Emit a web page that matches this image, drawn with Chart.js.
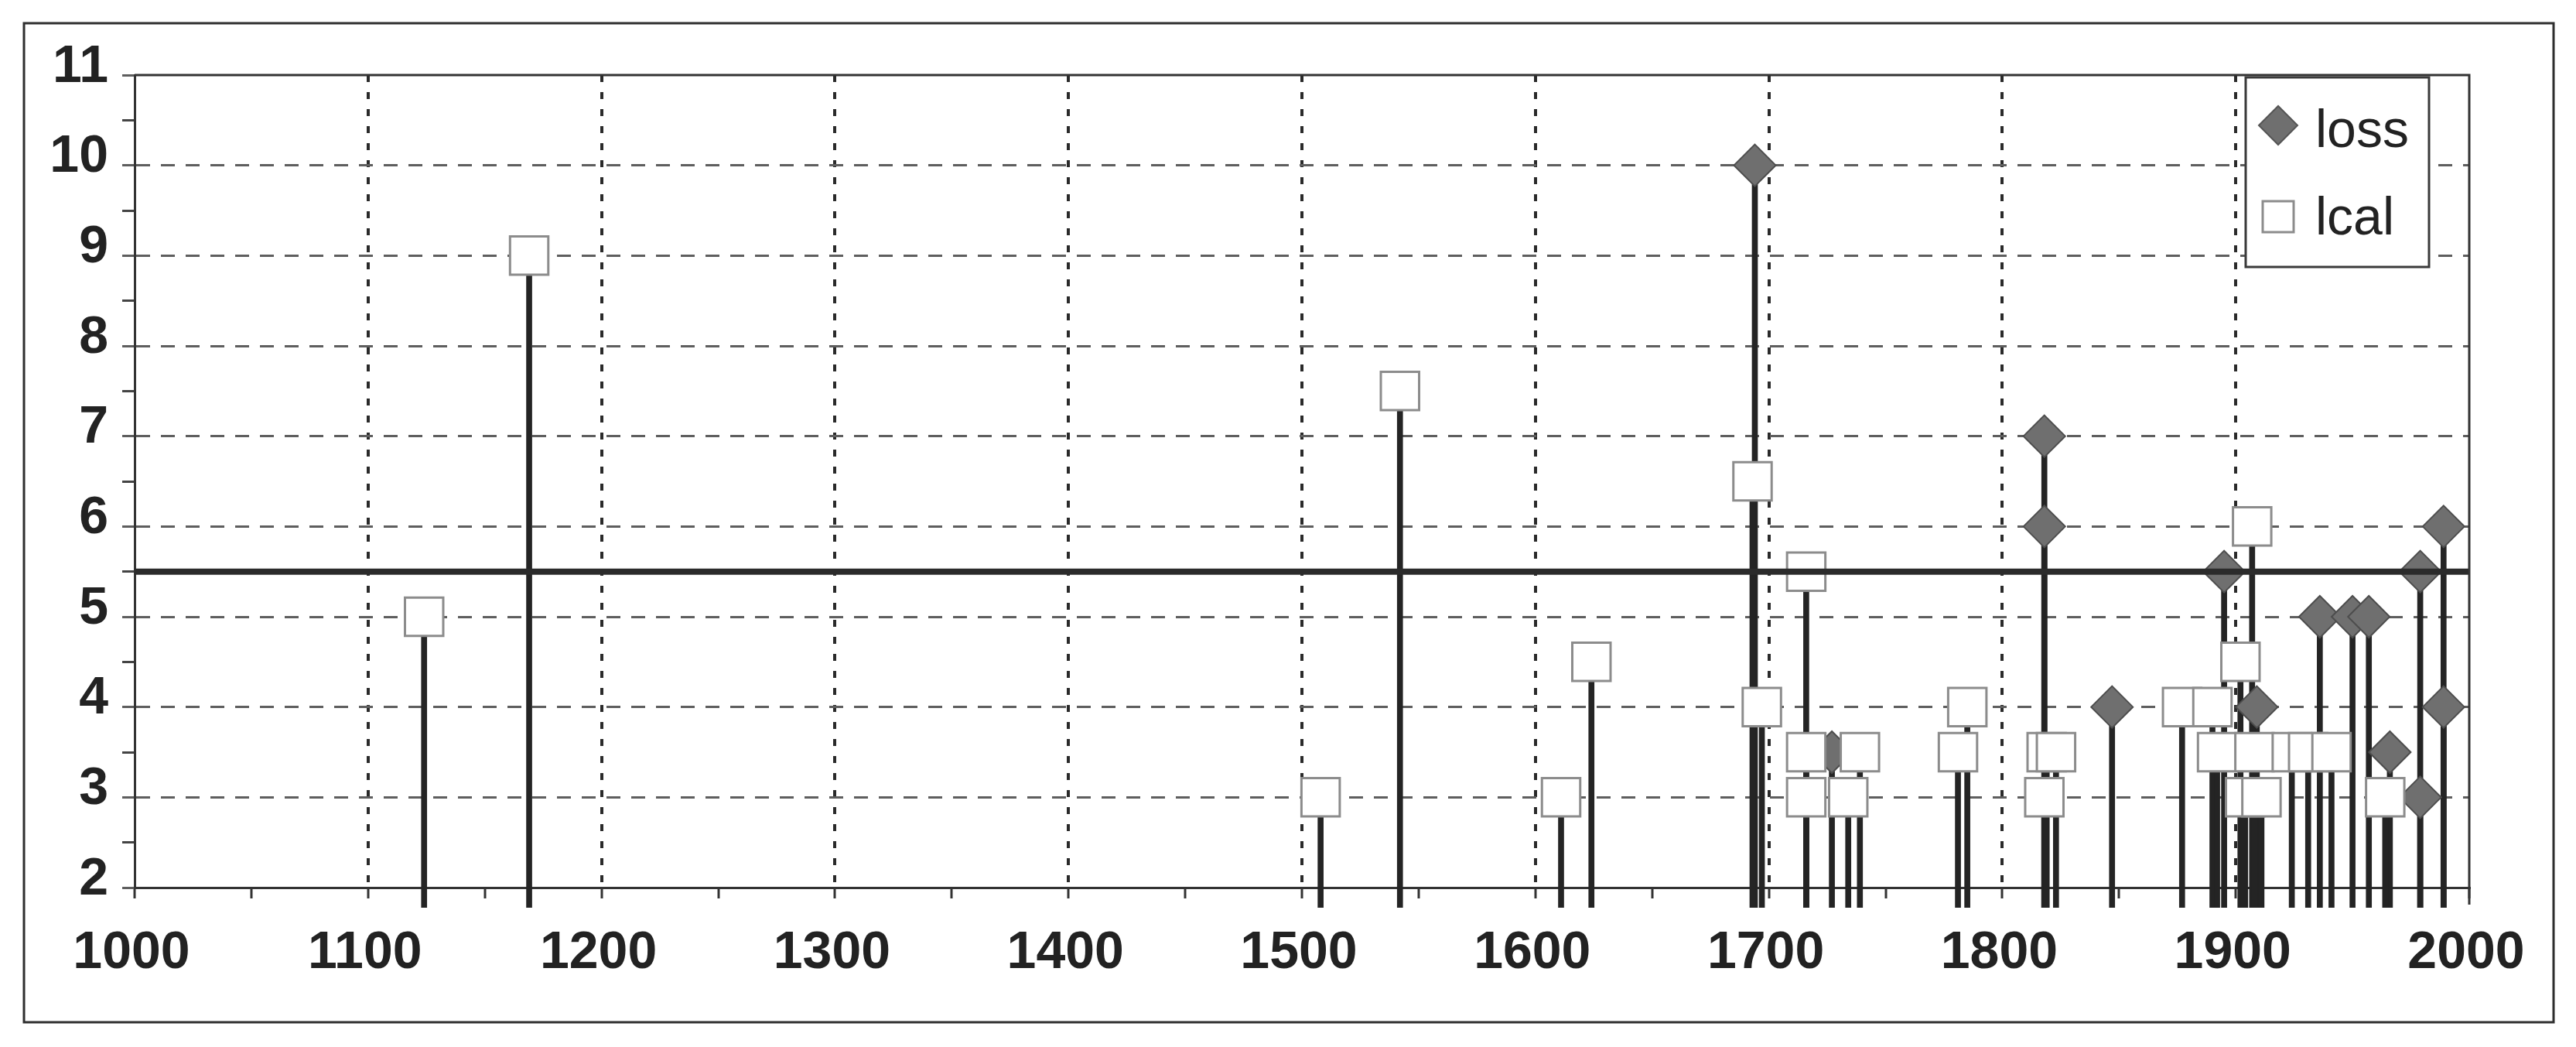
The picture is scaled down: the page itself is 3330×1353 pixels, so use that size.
<!DOCTYPE html>
<html>
<head>
<meta charset="utf-8">
<script src="https://cdn.jsdelivr.net/npm/chart.js@4"></script>
<style>
  html, body { margin: 0; padding: 0; background: #fff; }
  canvas { display: block; }
</style>
</head>
<body>
<canvas id="chart" width="3330" height="1353"></canvas>
<script>
// data
const lossYears  = [1694, 1727, 1818, 1818, 1847, 1895, 1909, 1936, 1950, 1957, 1966, 1979, 1979, 1989, 1989];
const lossValues = [10, 3.5, 7, 6, 4, 5.5, 4, 5, 5, 5, 3.5, 5.5, 3, 6, 4];

const lcalYears  = [1124, 1169, 1508, 1542, 1611, 1624, 1693, 1697, 1716, 1716, 1716, 1734, 1739, 1781, 1785,
                    1818, 1819, 1823, 1877, 1890, 1892, 1902, 1904, 1907, 1908, 1911, 1924, 1931, 1941, 1964];
const lcalValues = [5, 9, 3, 7.5, 3, 4.5, 6.5, 4, 5.5, 3.5, 3, 3, 3.5, 3.5, 4,
                    3, 3.5, 3.5, 4, 4, 3.5, 4.5, 3, 6, 3.5, 3, 3.5, 3.5, 3.5, 3];

const threshold = 5.5;
const xMin = 1000, xMax = 2000, xStep = 50;
const yMin = 2, yMax = 11, yStep = 0.5;
const stemBase = 1.78;   // stems run a little past the axis

const seriesNames = ["loss", "lcal"];

const lossPoints = lossYears.map((x, i) => ({ x: x, y: lossValues[i] }));
const lcalPoints = lcalYears.map((x, i) => ({ x: x, y: lcalValues[i] }));
const stems = lossPoints.concat(lcalPoints).map(p => ({ x: p.x, y: [stemBase, p.y] }));

const tickFont = { family: "'Liberation Sans', Arial, sans-serif", size: 68, weight: "bold" };
const isWhole = v => Math.abs(v - Math.round(v)) < 1e-9;

// outer frame + plot box
const framePlugin = {
  id: "frame",
  beforeDraw(chart) {
    const c = chart.ctx;
    c.save();
    c.fillStyle = "#fff";
    c.fillRect(0, 0, chart.width, chart.height);
    c.strokeStyle = "#2e2e2e";
    c.lineWidth = 3;
    c.strokeRect(31, 30, 3270, 1291);
    c.restore();
  },
  afterDatasetsDraw(chart) {
    const a = chart.chartArea, c = chart.ctx;
    c.save();
    c.strokeStyle = "#333";
    c.lineWidth = 3;
    c.beginPath();
    c.moveTo(a.left, a.top);
    c.lineTo(a.right, a.top);
    c.lineTo(a.right, a.bottom + 22);
    c.stroke();
    c.restore();
  }
};

// boxed legend inside the plot, top right
const legendBox = {
  id: "legendBox",
  afterDraw(chart) {
    const c = chart.ctx;
    const a = chart.chartArea;
    const bx = a.right - 289, by = a.top + 3, bw = 237, bh = 245;
    c.save();
    c.fillStyle = "#fff";
    c.fillRect(bx, by, bw, bh);
    c.strokeStyle = "#3a3a3a";
    c.lineWidth = 3;
    c.strokeRect(bx, by, bw, bh);

    // loss marker
    const mx = bx + 42;
    let my = by + 62;
    c.beginPath();
    c.moveTo(mx - 25, my); c.lineTo(mx, my - 25); c.lineTo(mx + 25, my); c.lineTo(mx, my + 25);
    c.closePath();
    c.fillStyle = "#6f6f6f"; c.fill();
    c.strokeStyle = "#555"; c.lineWidth = 2; c.stroke();

    c.fillStyle = "#222";
    c.font = "68px 'Liberation Sans', Arial, sans-serif";
    c.textBaseline = "alphabetic";
    c.fillText(seriesNames[0], bx + 90, by + 90);

    // lcal marker
    my = by + 180;
    c.fillStyle = "#fff";
    c.fillRect(mx - 20, my - 20, 40, 40);
    c.strokeStyle = "#8c8c8c"; c.lineWidth = 3;
    c.strokeRect(mx - 20, my - 20, 40, 40);
    c.fillStyle = "#222";
    c.fillText(seriesNames[1], bx + 90, by + 203);
    c.restore();
  }
};

const ctx = document.getElementById("chart");

new Chart(ctx, {
  type: "scatter",
  data: {
    datasets: [
      {
        type: "line",
        label: "threshold",
        data: [{ x: xMin, y: threshold }, { x: xMax, y: threshold }],
        borderColor: "#2b2b2b",
        borderWidth: 8,
        pointRadius: 0,
        order: 0,
      },
      {
        label: seriesNames[1],
        data: lcalPoints,
        pointStyle: "rect",
        pointRadius: 35,
        pointBackgroundColor: "#fff",
        pointBorderColor: "#8c8c8c",
        pointBorderWidth: 3,
        clip: false,
        order: 1,
      },
      {
        label: seriesNames[0],
        data: lossPoints,
        pointStyle: "rectRot",
        pointRadius: 27,
        pointBackgroundColor: "#6f6f6f",
        pointBorderColor: "#4d4d4d",
        pointBorderWidth: 2,
        clip: false,
        order: 2,
      },
      {
        type: "bar",
        label: "stems",
        data: stems,
        backgroundColor: "#242424",
        borderWidth: 0,
        barThickness: 7,
        grouped: false,
        clip: false,
        order: 3,
      },
    ],
  },
  options: {
    responsive: false,
    animation: false,
    devicePixelRatio: 1,
    layout: { padding: { top: 97, right: 138, left: 0, bottom: 0 } },
    plugins: {
      legend: { display: false },
      tooltip: { enabled: false },
    },
    scales: {
      x: {
        type: "linear",
        min: xMin,
        max: xMax,
        offset: false,
        afterFit(s) { s.height = 206; },
        ticks: {
          stepSize: xStep,
          autoSkip: false,
          maxRotation: 0,
          padding: 30,
          labelOffset: -4,
          color: "#222",
          font: tickFont,
          callback: v => (v % 100 === 0 ? String(v) : ""),
        },
        grid: {
          offset: false,
          color: c => (c.tick && c.tick.value % 100 === 0 && c.tick.value !== xMin && c.tick.value !== xMax ? "#2a2a2a" : "rgba(0,0,0,0)"),
          lineWidth: 4,
          tickLength: 14,
          tickWidth: 3,
          tickColor: "#333",
        },
        border: { display: true, color: "#333", width: 3, dash: [9, 13] },
      },
      y: {
        type: "linear",
        min: yMin,
        max: yMax,
        afterFit(s) { s.width = 174; },
        ticks: {
          stepSize: yStep,
          autoSkip: false,
          padding: 18,
          labelOffset: -10,
          color: "#222",
          font: tickFont,
          callback: v => (isWhole(v) ? String(v) : ""),
        },
        grid: {
          color: c => (c.tick && isWhole(c.tick.value) && c.tick.value !== yMin && c.tick.value !== yMax ? "#5e5e5e" : "rgba(0,0,0,0)"),
          lineWidth: 3,
          tickLength: 16,
          tickWidth: 3,
          tickColor: c => (c.tick && isWhole(c.tick.value) ? "#5e5e5e" : "#444"),
        },
        border: { display: true, color: "#333", width: 3, dash: [18, 14] },
      },
    },
  },
  plugins: [framePlugin, legendBox],
});
</script>
</body>
</html>
